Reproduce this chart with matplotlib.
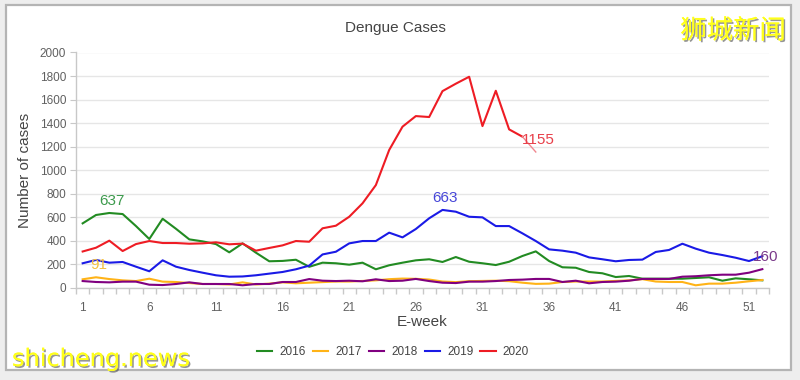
import matplotlib
matplotlib.use("Agg")
import matplotlib.pyplot as plt
import matplotlib.patheffects as pe
from matplotlib.patches import Rectangle
from matplotlib.ticker import MultipleLocator, FixedLocator

weeks = list(range(1, 53))
y2016 = [549, 620, 637, 628, 526, 416, 588, 503, 413, 396, 373, 303, 379, 300, 227, 230,
         240, 180, 215, 210, 198, 215, 159, 193, 215, 235, 244, 221, 263, 223, 210, 195,
         223, 272, 311, 229, 176, 172, 136, 125, 93, 102, 79, 79, 79, 79, 85, 91, 62, 82, 74, 65]
y2017 = [74, 91, 76, 65, 59, 79, 54, 51, 42, 34, 34, 30, 48, 30, 37, 48, 40, 45, 50, 55,
         55, 60, 65, 75, 80, 78, 72, 55, 50, 58, 60, 62, 58, 45, 35, 37, 51, 55, 55, 55,
         60, 65, 75, 55, 51, 51, 23, 37, 37, 45, 57, 68]
y2018 = [59, 51, 48, 54, 54, 28, 25, 34, 48, 34, 34, 34, 23, 34, 34, 51, 51, 76, 62, 59,
         62, 57, 74, 59, 62, 77, 59, 45, 42, 54, 54, 59, 68, 71, 77, 77, 51, 62, 40, 51,
         54, 62, 77, 77, 77, 96, 100, 108, 113, 113, 130, 160]
y2019 = [210, 238, 215, 221, 181, 142, 235, 181, 153, 130, 108, 96, 98, 108, 122, 136,
         159, 190, 285, 308, 379, 399, 399, 470, 430, 501, 592, 663, 648, 605, 600, 526,
         526, 464, 399, 328, 317, 300, 260, 244, 227, 238, 241, 306, 323, 376, 334, 300,
         280, 257, 229, 270]
y2020 = [310, 342, 402, 314, 373, 399, 382, 382, 376, 379, 388, 371, 377, 317, 340, 362,
         399, 393, 507, 529, 605, 719, 874, 1172, 1370, 1460, 1452, 1672, 1735, 1794, 1375,
         1675, 1347, 1285, 1155]

series_names = ["2016", "2017", "2018", "2019", "2020"]
series_values = [y2016, y2017, y2018, y2019, y2020]
series_colors = ["#228B22", "#FFB317", "#800080", "#1A1AE6", "#EE1C24"]
label_colors = ["#3C9A4C", "#F5C040", "#7A3A8A", "#4646D8", "#E8404A"]
# (series index, week of labelled point)
data_labels = [(0, 3), (1, 2), (3, 28), (4, 35), (2, 52)]

plt.rcParams['font.family'] = ['Liberation Sans', 'DejaVu Sans']

fig = plt.figure(figsize=(8, 3.8), dpi=100, facecolor="#eeeeee")
W, H = 800, 380

# outer frame
fig.patches.append(Rectangle((6 / W, 1 - 370 / H), (791 - 6) / W, (370 - 5) / H,
                             transform=fig.transFigure, facecolor="white",
                             edgecolor="#b4b4b4", linewidth=1.6, zorder=-10))

ax = fig.add_axes([76 / W, 1 - 288 / H, (769 - 76) / W, (288 - 52.5) / H])
ax.set_facecolor("white")

for i, (name, vals, col) in enumerate(zip(series_names, series_values, series_colors)):
    xs = weeks[:len(vals)]
    if name == "2020":
        ax.plot(xs[:-1], vals[:-1], color=col, lw=1.5, label=name, zorder=3 + i,
                solid_joinstyle="round")
        ax.plot(xs[-2:], vals[-2:], color="#F08890", lw=1.0, zorder=3 + i)
    else:
        ax.plot(xs, vals, color=col, lw=1.5, label=name, zorder=3 + i,
                solid_joinstyle="round")

for si, wk in data_labels:
    v = series_values[si][wk - 1]
    ax.annotate(str(v), (wk, v), xytext=(3, 12), textcoords="offset pixels",
                ha="center", va="center", fontsize=11, color=label_colors[si], zorder=20)

ax.set_xlim(0.5, 52.5)
ax.set_ylim(0, 2000)
ax.yaxis.set_major_locator(MultipleLocator(200))
ax.xaxis.set_major_locator(FixedLocator(list(range(1, 53, 5))))
ax.xaxis.set_minor_locator(FixedLocator([w + 0.5 for w in range(0, 53)]))
ax.tick_params(axis="x", which="major", length=0, labelsize=8.5, labelcolor="#606060", pad=10)
ax.tick_params(axis="x", which="minor", length=4, color="#c8c8c8", width=1)
ax.tick_params(axis="y", which="major", length=4, color="#c8c8c8", labelsize=8.5,
               labelcolor="#606060", pad=3)
ax.grid(axis="y", color="#e6e6e6", linewidth=1)
ax.set_axisbelow(True)
for s in ["top", "right"]:
    ax.spines[s].set_visible(False)
for s in ["left", "bottom"]:
    ax.spines[s].set_color("#c8c8c8")
    ax.spines[s].set_linewidth(1)

fig.text(25 / W, 1 - 170 / H, "Number of cases", rotation=90, ha="center", va="center",
         fontsize=11, color="#444444")
fig.text(422 / W, 1 - 322 / H, "E-week", ha="center", va="center", fontsize=11, color="#444444")
fig.text(395 / W, 1 - 28 / H, "Dengue Cases", ha="center", va="center", fontsize=11,
         color="#444444")

handles, labels = ax.get_legend_handles_labels()
fig.legend(handles, labels, loc="center", bbox_to_anchor=(393 / W, 1 - 352 / H), ncol=5,
           frameon=False, fontsize=8.5, handlelength=1.3, handletextpad=0.6,
           columnspacing=0.6, labelcolor="#444444")

shadow = [pe.withSimplePatchShadow(offset=(1.2, -1.2), shadow_rgbFace="#505050", alpha=0.6),
          pe.Normal()]
fig.text(733 / W, 1 - 31 / H, "狮城新闻", ha="center", va="center", fontsize=19,
         fontweight="medium", color="#FFFF1A", family=["Noto Sans CJK SC", "DejaVu Sans"],
         path_effects=shadow)
fig.text(12 / W, 14 / H, "shicheng.news", ha="left", va="baseline", fontsize=17.3,
         color="#FFFF1A", family=["DejaVu Sans"], path_effects=shadow)

fig.savefig("out.png", dpi=100, facecolor=fig.get_facecolor())
